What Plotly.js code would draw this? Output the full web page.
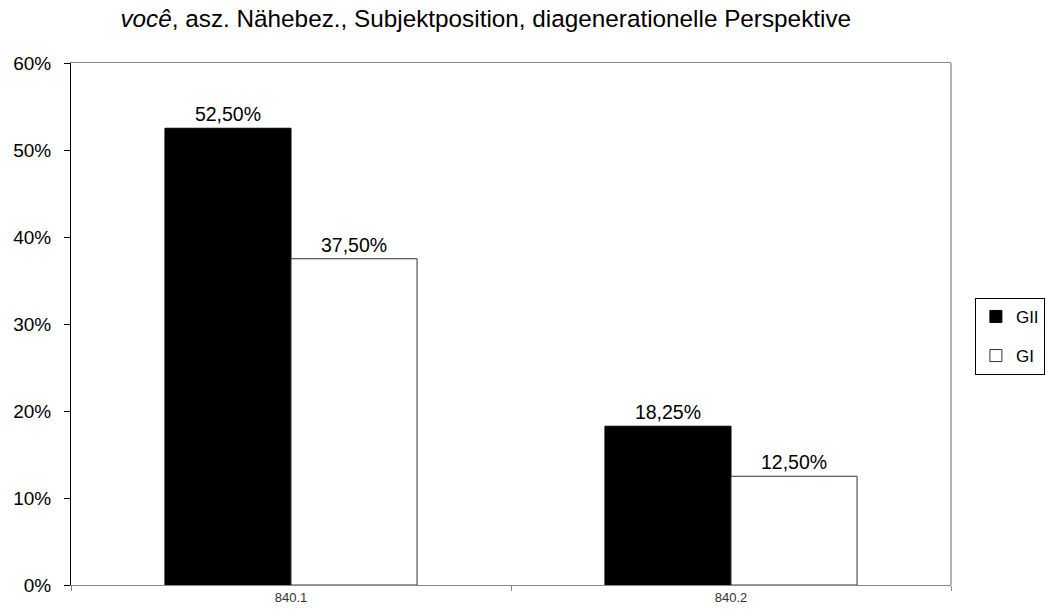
<!DOCTYPE html>
<html>
<head>
<meta charset="utf-8">
<script src="https://cdn.plot.ly/plotly-3.0.1.min.js"></script>
<style>html,body{margin:0;padding:0;background:#fff;}#chart{width:1056px;height:615px;}</style>
</head>
<body>
<div id="chart"></div>
<script>
const categories = ["840.1", "840.2"];
const seriesNames = ["GII", "GI"];
const valuesGII = [0.525, 0.1825];
const valuesGI = [0.375, 0.125];
const yTickVals = [0, 0.1, 0.2, 0.3, 0.4, 0.5, 0.6];

const font = "Liberation Sans, Arial, sans-serif";

const traces = [
  {
    type: "bar", name: seriesNames[0], x: categories, y: valuesGII, legendgroup: "a",
    marker: {color: "#000000", line: {color: "#000000", width: 1}},
    texttemplate: "%{y:.2%}", textposition: "outside", cliponaxis: false,
    textfont: {family: font, size: 19.5, color: "#000"}, hoverinfo: "none"
  },
  {
    type: "bar", name: seriesNames[1], x: categories, y: valuesGI, legendgroup: "b",
    marker: {color: "#ffffff", line: {color: "#333333", width: 1}},
    texttemplate: "%{y:.2%}", textposition: "outside", cliponaxis: false,
    textfont: {family: font, size: 19.5, color: "#000"}, hoverinfo: "none"
  }
];

const layout = {
  width: 1056, height: 615,
  margin: {l: 71, r: 104, t: 63, b: 30},
  paper_bgcolor: "#fff", plot_bgcolor: "#fff",
  separators: ",.",
  font: {family: font, color: "#000"},
  title: {
    text: "<i>você</i>, asz. Nähebez., Subjektposition, diagenerationelle Perspektive",
    font: {family: font, size: 24.3, color: "#000"},
    x: 0.46, xanchor: "center", xref: "container", y: 0.97, yanchor: "middle", yref: "container"
  },
  barmode: "group", bargap: 0.427, bargroupgap: 0,
  showlegend: true,
  legend: {
    x: 1.026, xanchor: "left", y: 0.55, yanchor: "top",
    bordercolor: "#000", borderwidth: 1, bgcolor: "#fff",
    font: {family: font, size: 17, color: "#000"},
    itemwidth: 30, traceorder: "grouped", tracegroupgap: 14
  },
  xaxis: {
    type: "category", showgrid: false, zeroline: false,
    showline: true, linecolor: "#888", linewidth: 1, mirror: true,
    ticks: "outside", tickson: "boundaries", ticklen: 5, tickcolor: "#888",
    tickfont: {family: font, size: 13, color: "#333"}
  },
  yaxis: {
    range: [0, 0.6], tickvals: yTickVals, tickformat: ".0%",
    showgrid: false, zeroline: false,
    showline: true, linecolor: "#000", linewidth: 1,
    ticks: "outside", ticklen: 6, tickcolor: "#000", ticklabelstandoff: 9,
    tickfont: {family: font, size: 19, color: "#000"}
  },
  shapes: [
    {type: "line", xref: "paper", yref: "paper", x0: 1, x1: 1, y0: 0, y1: 1, line: {color: "#999", width: 1.5}}
  ]
};

Plotly.newPlot("chart", traces, layout, {displayModeBar: false, staticPlot: true});
</script>
</body>
</html>
